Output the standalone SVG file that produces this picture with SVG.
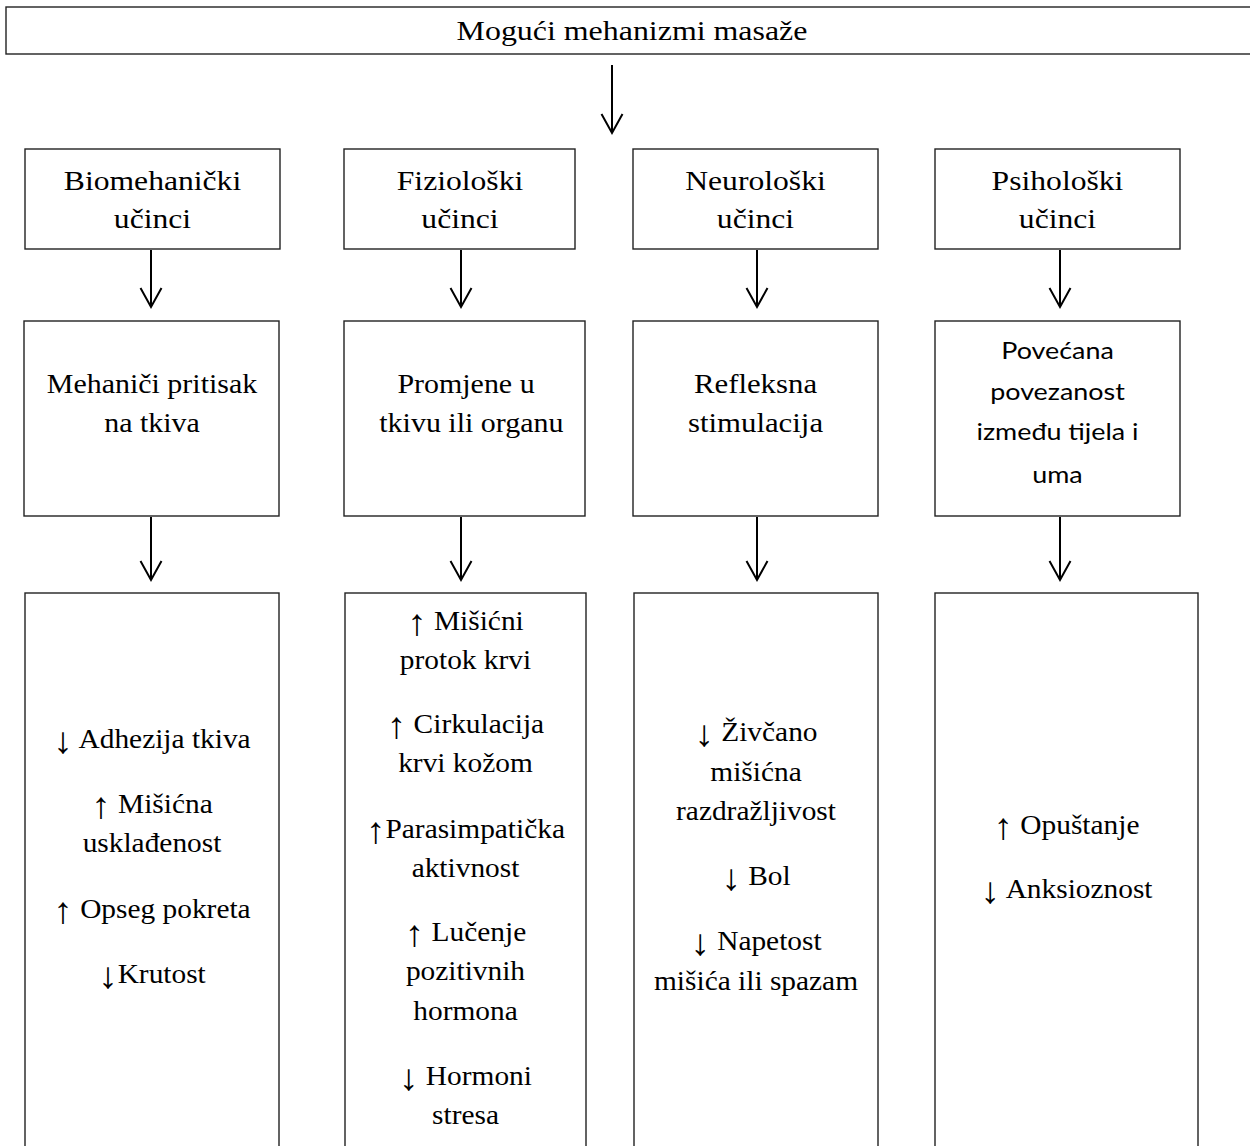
<svg xmlns="http://www.w3.org/2000/svg" width="1250" height="1146" viewBox="0 0 1250 1146">
<style>
.box{fill:#fff;stroke:#222;stroke-width:1.4}
.t{font-family:"Liberation Serif","Times New Roman",serif;font-size:28px;fill:#000;text-anchor:middle}
.ar{font-size:37px}
.s{font-family:Lato,"Noto Sans","Liberation Sans",sans-serif;font-size:24px;fill:#000;text-anchor:middle}
.conn{stroke:#000;stroke-width:2;fill:none}
</style>
<defs>
<marker id="ah" markerUnits="userSpaceOnUse" orient="auto" refX="0" refY="0" markerWidth="30" markerHeight="30" overflow="visible">
<path d="M-19,-10.5 L0,0 L-19,10.5" fill="none" stroke="#000" stroke-width="2"/>
</marker>
</defs>
<rect width="1250" height="1146" fill="#fff"/>

<g id="title">
<rect class="box" x="6" y="7" width="1260" height="47"/>
<g transform="translate(632 0) scale(1.14 1)"><text class="t" x="0" y="40">Mogući mehanizmi masaže</text></g>
</g>

<g id="bio-effects">
<rect class="box" x="25" y="149" width="255" height="100"/>
<g transform="translate(152.5 0) scale(1.13 1)"><text class="t" x="0" y="190">Biomehanički</text><text class="t" x="0" y="228">učinci</text></g>
</g>
<g id="fiz-effects">
<rect class="box" x="344" y="149" width="231" height="100"/>
<g transform="translate(460 0) scale(1.13 1)"><text class="t" x="0" y="190">Fiziološki</text><text class="t" x="0" y="228">učinci</text></g>
</g>
<g id="neuro-effects">
<rect class="box" x="633" y="149" width="245" height="100"/>
<g transform="translate(755.5 0) scale(1.13 1)"><text class="t" x="0" y="190">Neurološki</text><text class="t" x="0" y="228">učinci</text></g>
</g>
<g id="psi-effects">
<rect class="box" x="935" y="149" width="245" height="100"/>
<g transform="translate(1057.5 0) scale(1.13 1)"><text class="t" x="0" y="190">Psihološki</text><text class="t" x="0" y="228">učinci</text></g>
</g>

<g id="bio-mech">
<rect class="box" x="24" y="321" width="255" height="195"/>
<g transform="translate(152 0) scale(1.07 1)"><text class="t" x="0" y="393">Mehaniči pritisak</text><text class="t" x="0" y="432">na tkiva</text></g>
</g>
<g id="fiz-mech">
<rect class="box" x="344" y="321" width="241" height="195"/>
<g transform="translate(466 0) scale(1.07 1)"><text class="t" x="0" y="393">Promjene u</text><text class="t" x="5" y="432">tkivu ili organu</text></g>
</g>
<g id="neuro-mech">
<rect class="box" x="633" y="321" width="245" height="195"/>
<g transform="translate(755.5 0) scale(1.1 1)"><text class="t" x="0" y="393">Refleksna</text><text class="t" x="0" y="432">stimulacija</text></g>
</g>
<g id="psi-mech">
<rect class="box" x="935" y="321" width="245" height="195"/>
<g transform="translate(1057.5 0) scale(1.12 1)"><text class="s" x="0" y="359">Povećana</text><text class="s" x="0" y="400">povezanost</text><text class="s" x="0" y="440">između tijela i</text><text class="s" x="0" y="483">uma</text></g>
</g>

<g id="bio-out">
<rect class="box" x="25" y="593" width="254" height="600"/>
<g transform="translate(152 0) scale(1.05 1)">
<text class="t" x="0" y="748"><tspan class="ar" dy="5">↓</tspan><tspan dy="-5"> Adhezija tkiva</tspan></text>
<text class="t" x="0" y="813"><tspan class="ar" dy="5">↑</tspan><tspan dy="-5"> Mišićna</tspan></text>
<text class="t" x="0" y="852">usklađenost</text>
<text class="t" x="0" y="918"><tspan class="ar" dy="5">↑</tspan><tspan dy="-5"> Opseg pokreta</tspan></text>
<text class="t" x="0" y="983"><tspan class="ar" dy="5">↓</tspan><tspan dy="-5">Krutost</tspan></text>
</g>
</g>
<g id="fiz-out">
<rect class="box" x="345" y="593" width="241" height="600"/>
<g transform="translate(465.5 0) scale(1.05 1)">
<text class="t" x="0" y="630"><tspan class="ar" dy="5">↑</tspan><tspan dy="-5"> Mišićni</tspan></text>
<text class="t" x="0" y="669">protok krvi</text>
<text class="t" x="0" y="733"><tspan class="ar" dy="5">↑</tspan><tspan dy="-5"> Cirkulacija</tspan></text>
<text class="t" x="0" y="772">krvi kožom</text>
<text class="t" x="0" y="838"><tspan class="ar" dy="5">↑</tspan><tspan dy="-5">Parasimpatička</tspan></text>
<text class="t" x="0" y="877">aktivnost</text>
<text class="t" x="0" y="941"><tspan class="ar" dy="5">↑</tspan><tspan dy="-5"> Lučenje</tspan></text>
<text class="t" x="0" y="980">pozitivnih</text>
<text class="t" x="0" y="1020">hormona</text>
<text class="t" x="0" y="1085"><tspan class="ar" dy="5">↓</tspan><tspan dy="-5"> Hormoni</tspan></text>
<text class="t" x="0" y="1124">stresa</text>
</g>
</g>
<g id="neuro-out">
<rect class="box" x="634" y="593" width="244" height="600"/>
<g transform="translate(756 0) scale(1.05 1)">
<text class="t" x="0" y="741"><tspan class="ar" dy="5">↓</tspan><tspan dy="-5"> Živčano</tspan></text>
<text class="t" x="0" y="781">mišićna</text>
<text class="t" x="0" y="820">razdražljivost</text>
<text class="t" x="0" y="885"><tspan class="ar" dy="5">↓</tspan><tspan dy="-5"> Bol</tspan></text>
<text class="t" x="0" y="950"><tspan class="ar" dy="5">↓</tspan><tspan dy="-5"> Napetost</tspan></text>
<text class="t" x="0" y="990">mišića ili spazam</text>
</g>
</g>
<g id="psi-out">
<rect class="box" x="935" y="593" width="263" height="600"/>
<g transform="translate(1066.5 0) scale(1.05 1)">
<text class="t" x="0" y="834"><tspan class="ar" dy="5">↑</tspan><tspan dy="-5"> Opuštanje</tspan></text>
<text class="t" x="0" y="898"><tspan class="ar" dy="5">↓</tspan><tspan dy="-5"> Anksioznost</tspan></text>
</g>
</g>

<g id="connectors" class="conn">
<line x1="612" y1="65" x2="612" y2="133" marker-end="url(#ah)"/>
<line x1="151" y1="250" x2="151" y2="307" marker-end="url(#ah)"/>
<line x1="461" y1="250" x2="461" y2="307" marker-end="url(#ah)"/>
<line x1="757" y1="250" x2="757" y2="307" marker-end="url(#ah)"/>
<line x1="1060" y1="250" x2="1060" y2="307" marker-end="url(#ah)"/>
<line x1="151" y1="517" x2="151" y2="580" marker-end="url(#ah)"/>
<line x1="461" y1="517" x2="461" y2="580" marker-end="url(#ah)"/>
<line x1="757" y1="517" x2="757" y2="580" marker-end="url(#ah)"/>
<line x1="1060" y1="517" x2="1060" y2="580" marker-end="url(#ah)"/>
</g>
</svg>
